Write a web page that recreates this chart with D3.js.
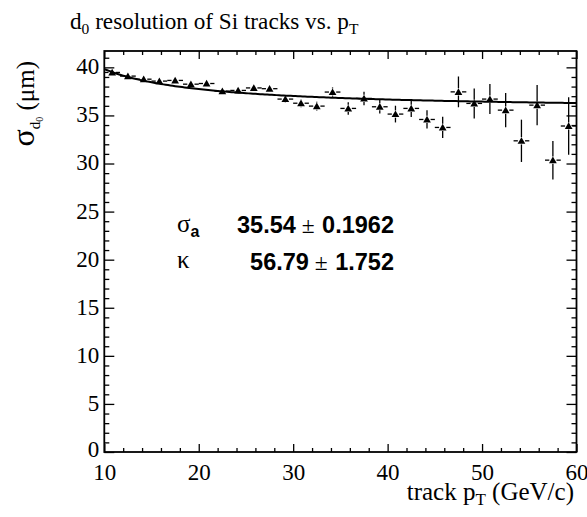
<!DOCTYPE html>
<html><head><meta charset="utf-8">
<script src="https://cdn.jsdelivr.net/npm/d3@7"></script>
<style>
html,body{margin:0;padding:0;background:#fff;}
svg{display:block;}
.serif{font-family:"Liberation Serif","Times New Roman",Times,"DejaVu Serif",serif;}
.sans{font-family:"Liberation Sans",Arial,Helvetica,sans-serif;}
</style></head>
<body>
<svg id="c" width="587" height="517"></svg>
<script>
// ---- data ----
const ptCenters = [10.83,12.5,14.17,15.83,17.5,19.17,20.83,22.5,24.17,25.83,27.5,29.17,30.83,32.5,34.17,35.83,37.5,39.17,40.83,42.5,44.17,45.83,47.5,49.17,50.83,52.5,54.17,55.83,57.5,59.17];
const sigmaValues = [39.47,39.09,38.77,38.57,38.64,38.25,38.32,37.53,37.60,37.86,37.78,36.70,36.27,35.97,37.43,35.73,36.77,35.90,35.14,35.73,34.58,33.75,37.45,36.25,36.70,35.55,32.36,36.07,30.35,33.90];
const sigmaErrors = [0.15,0.15,0.18,0.2,0.2,0.22,0.24,0.25,0.27,0.3,0.32,0.4,0.42,0.45,0.48,0.65,0.7,0.7,0.87,0.9,0.95,1.1,1.6,1.56,1.56,1.77,2.2,2.1,2.0,3.0];
const binWidth = 1.667;
const fitSigmaA = 35.54, fitSigmaAErr = 0.1962;
const fitKappa = 56.79, fitKappaErr = 1.752;
const xTickLabels = [10,20,30,40,50,60];
const yTickLabels = [0,5,10,15,20,25,30,35,40];
const xDomain = [10,60], yDomain = [0,41.7];

// ---- layout ----
const L = 104.3, R = 576.5, T = 51, B = 452;
const svg = d3.select("#c");
const x = d3.scaleLinear().domain(xDomain).range([L,R]);
const y = d3.scaleLinear().domain(yDomain).range([B,T]);

const xMinor = d3.range(10,60.001,2).filter(v=>v%10!==0);
const yMinor = d3.range(0,41.7,1).filter(v=>v%5!==0);

function axisStyle(g){ g.select(".domain").remove(); g.selectAll("line").attr("stroke","#000").attr("stroke-width",1.3); g.attr("font-family",null).attr("font-size",null); }

// bottom
svg.append("g").attr("transform",`translate(0,${B})`)
  .call(d3.axisBottom(x).tickValues(xTickLabels).tickSizeInner(-8).tickSizeOuter(0).tickPadding(11).tickFormat(d3.format("d")))
  .call(axisStyle)
  .call(g=>g.selectAll("text").attr("class","serif").attr("font-size",23).attr("fill","#000").attr("dy","0.72em"));
svg.append("g").attr("transform",`translate(0,${B})`)
  .call(d3.axisBottom(x).tickValues(xMinor).tickSizeInner(-4).tickSizeOuter(0).tickFormat(""))
  .call(axisStyle);
// top
svg.append("g").attr("transform",`translate(0,${T})`)
  .call(d3.axisTop(x).tickValues(xTickLabels).tickSizeInner(-8).tickSizeOuter(0).tickFormat(""))
  .call(axisStyle);
svg.append("g").attr("transform",`translate(0,${T})`)
  .call(d3.axisTop(x).tickValues(xMinor).tickSizeInner(-4).tickSizeOuter(0).tickFormat(""))
  .call(axisStyle);
// left
svg.append("g").attr("transform",`translate(${L},0)`)
  .call(d3.axisLeft(y).tickValues(yTickLabels).tickSizeInner(-10).tickSizeOuter(0).tickPadding(5).tickFormat(d3.format("d")))
  .call(axisStyle)
  .call(g=>g.selectAll("text").attr("class","serif").attr("font-size",23).attr("fill","#000").attr("dy",d=>d===0?"0.18em":"0.28em"));
svg.append("g").attr("transform",`translate(${L},0)`)
  .call(d3.axisLeft(y).tickValues(yMinor).tickSizeInner(-5).tickSizeOuter(0).tickFormat(""))
  .call(axisStyle);
// right
svg.append("g").attr("transform",`translate(${R},0)`)
  .call(d3.axisRight(y).tickValues(yTickLabels).tickSizeInner(-10).tickSizeOuter(0).tickFormat(""))
  .call(axisStyle);
svg.append("g").attr("transform",`translate(${R},0)`)
  .call(d3.axisRight(y).tickValues(yMinor).tickSizeInner(-5).tickSizeOuter(0).tickFormat(""))
  .call(axisStyle);

// frame
svg.append("rect").attr("x",L).attr("y",T).attr("width",R-L).attr("height",B-T)
  .attr("fill","none").attr("stroke","#000").attr("stroke-width",1.8);

// fit curve (fit function drawn from the fit parameters)
const fitPts = d3.range(0,201).map(i=>{const p = xDomain[0] + (xDomain[1]-xDomain[0])*i/200; return [p, Math.sqrt(fitSigmaA*fitSigmaA + fitKappa*fitKappa/p)];});
svg.append("path").datum(fitPts)
  .attr("d", d3.line().x(d=>x(d[0])).y(d=>y(d[1])))
  .attr("fill","none").attr("stroke","#000").attr("stroke-width",2);

// data points with error bars
const gap = 3.6;
const pts = ptCenters.map((p,i)=>({p, v:sigmaValues[i], e:sigmaErrors[i]}));
const eg = svg.append("g").attr("stroke","#000").attr("stroke-width",1.3);
pts.forEach(d=>{
  const cx = x(d.p), cy = y(d.v);
  const x0 = x(d.p - binWidth/2), x1 = x(d.p + binWidth/2);
  const yt = y(d.v + d.e), yb = y(d.v - d.e);
  if (cx-gap > x0) eg.append("line").attr("x1",x0).attr("x2",cx-gap).attr("y1",cy).attr("y2",cy);
  if (x1 > cx+gap) eg.append("line").attr("x1",cx+gap).attr("x2",x1).attr("y1",cy).attr("y2",cy);
  if (cy-gap > yt) eg.append("line").attr("x1",cx).attr("x2",cx).attr("y1",yt).attr("y2",cy-gap);
  if (yb > cy+gap) eg.append("line").attr("x1",cx).attr("x2",cx).attr("y1",cy+gap).attr("y2",yb);
});
svg.append("g").selectAll("path").data(pts).join("path")
  .attr("transform",d=>`translate(${x(d.p)},${y(d.v)+0.8})`)
  .attr("d", d3.symbol(d3.symbolTriangle, 26)())
  .attr("fill","#000");

// title
const title = svg.append("text").attr("class","serif").attr("x",70).attr("y",29).attr("font-size",23.2).attr("fill","#000");
title.append("tspan").text("d");
title.append("tspan").attr("font-size",15.5).attr("dy",5).text("0");
title.append("tspan").attr("dy",-5).text(" resolution of Si tracks vs. p");
title.append("tspan").attr("font-size",15.5).attr("dy",5).text("T");

// x axis title
const xt = svg.append("text").attr("class","serif").attr("x",574).attr("y",500).attr("text-anchor","end").attr("font-size",25).attr("fill","#000");
xt.append("tspan").text("track p");
xt.append("tspan").attr("font-size",17).attr("dy",5).text("T");
xt.append("tspan").attr("dy",-5).text(" (GeV/c)");

// y axis title
const ytl = svg.append("text").attr("class","serif").attr("transform","translate(34,61) rotate(-90)").attr("text-anchor","end").attr("font-size",25).attr("fill","#000");
ytl.append("tspan").attr("font-size",32).text("σ");
ytl.append("tspan").attr("font-size",15).attr("dy",6).text("d");
ytl.append("tspan").attr("font-size",10).attr("dy",3).text("0");
ytl.append("tspan").attr("dy",-9).text(" (μm)");

// fit stats
const s1 = svg.append("text").attr("class","serif").attr("x",177).attr("y",232).attr("font-size",25).attr("fill","#000");
s1.append("tspan").text("σ");
s1.append("tspan").attr("class","sans").attr("font-weight","bold").attr("font-size",16).attr("dy",5).text("a");
const v1 = svg.append("text").attr("class","sans").attr("x",394).attr("y",233).attr("text-anchor","end").attr("font-weight","bold").attr("font-size",23.5).attr("fill","#000");
v1.append("tspan").text(fitSigmaA.toFixed(2));
v1.append("tspan").attr("class","serif").attr("font-weight","normal").text(" ±");
v1.append("tspan").attr("dx",1).text(" " + String(fitSigmaAErr));
svg.append("text").attr("class","serif").attr("x",177).attr("y",268).attr("font-size",25).attr("fill","#000").text("κ");
const v2 = svg.append("text").attr("class","sans").attr("x",394).attr("y",270).attr("text-anchor","end").attr("font-weight","bold").attr("font-size",23.5).attr("fill","#000");
v2.append("tspan").text(fitKappa.toFixed(2));
v2.append("tspan").attr("class","serif").attr("font-weight","normal").text(" ±");
v2.append("tspan").attr("dx",1).text(" " + String(fitKappaErr));
</script>
</body></html>
